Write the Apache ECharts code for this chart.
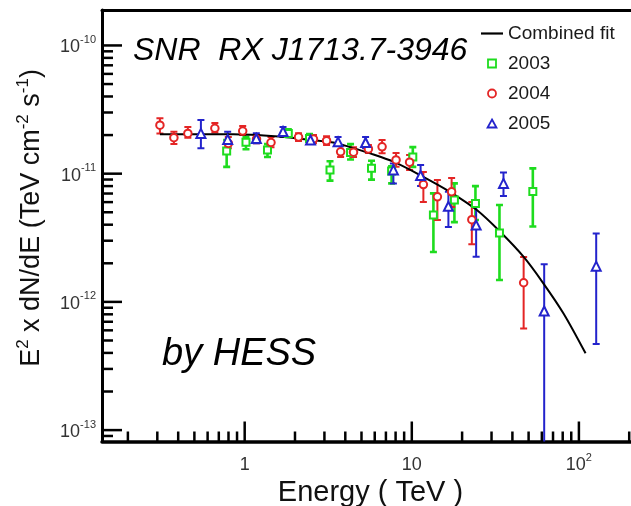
<!DOCTYPE html>
<html>
<head>
<meta charset="utf-8">
<script src="https://cdn.jsdelivr.net/npm/echarts@6/dist/echarts.min.js"></script>
<style>
  html, body { margin: 0; padding: 0; background: #fff; }
  #chart { width: 631px; height: 506px; }
</style>
</head>
<body>
<div id="chart"></div>
<script>
// Energies in TeV, E^2 dN/dE in TeV cm^-2 s^-1, with lower/upper error bounds.
const energy2003 = [0.780, 1.018, 1.369, 1.824, 2.443, 3.24, 4.30, 5.74, 7.57, 10.14, 13.47, 17.99, 24.04, 33.47, 53.0];
const flux2003   = [1.50e-11, 1.76e-11, 1.53e-11, 2.06e-11, 1.88e-11, 1.07e-11, 1.46e-11, 1.10e-11, 1.05e-11, 1.35e-11, 4.75e-12, 6.22e-12, 5.84e-12, 3.44e-12, 7.25e-12];
const low2003    = [1.13e-11, 1.55e-11, 1.35e-11, 1.93e-11, 1.76e-11, 8.83e-12, 1.29e-11, 8.99e-12, 8.40e-12, 1.13e-11, 2.45e-12, 4.19e-12, 4.35e-12, 1.48e-12, 3.87e-12];
const high2003   = [1.83e-11, 1.94e-11, 1.70e-11, 2.22e-11, 2.04e-11, 1.25e-11, 1.70e-11, 1.26e-11, 1.14e-11, 1.61e-11, 7.02e-12, 8.40e-12, 8.00e-12, 5.69e-12, 1.10e-11];

const energy2004 = [0.311, 0.377, 0.457, 0.663, 0.798, 0.973, 1.177, 1.437, 2.10, 2.58, 3.09, 3.75, 4.48, 5.50, 6.64, 8.05, 9.70, 11.73, 14.23, 17.31, 22.87, 46.7];
const flux2004   = [2.39e-11, 1.91e-11, 2.06e-11, 2.26e-11, 1.72e-11, 2.15e-11, 1.86e-11, 1.75e-11, 1.93e-11, 1.86e-11, 1.81e-11, 1.48e-11, 1.47e-11, 1.56e-11, 1.62e-11, 1.28e-11, 1.23e-11, 8.22e-12, 6.60e-12, 7.22e-12, 4.38e-12, 1.41e-12];
const low2004    = [2.06e-11, 1.70e-11, 1.91e-11, 2.09e-11, 1.58e-11, 2.00e-11, 1.73e-11, 1.61e-11, 1.80e-11, 1.73e-11, 1.67e-11, 1.35e-11, 1.35e-11, 1.45e-11, 1.44e-11, 1.13e-11, 1.07e-11, 6.00e-12, 4.35e-12, 5.49e-12, 2.82e-12, 6.19e-13];
const high2004   = [2.70e-11, 2.12e-11, 2.31e-11, 2.48e-11, 1.93e-11, 2.35e-11, 2.00e-11, 1.93e-11, 2.07e-11, 2.00e-11, 1.96e-11, 1.65e-11, 1.61e-11, 1.67e-11, 1.83e-11, 1.45e-11, 1.40e-11, 1.03e-11, 8.91e-12, 9.24e-12, 6.00e-12, 2.24e-12];

const energy2005 = [0.547, 0.791, 1.174, 1.696, 2.477, 3.62, 5.29, 7.76, 11.29, 16.56, 24.27, 35.37, 61.98, 126.9];
const flux2005   = [2.06e-11, 1.85e-11, 1.88e-11, 2.13e-11, 1.83e-11, 1.77e-11, 1.75e-11, 1.07e-11, 9.66e-12, 5.56e-12, 3.97e-12, 8.40e-12, 8.48e-13, 1.90e-12];
const low2005    = [1.58e-11, 1.61e-11, 1.73e-11, 1.93e-11, 1.70e-11, 1.64e-11, 1.58e-11, 8.40e-12, 8.00e-12, 3.83e-12, 2.25e-12, 6.69e-12, 6.0e-14, 4.69e-13];
const high2005   = [2.62e-11, 2.12e-11, 2.07e-11, 2.31e-11, 1.96e-11, 1.93e-11, 1.93e-11, 1.20e-11, 1.17e-11, 7.22e-12, 5.79e-12, 1.02e-11, 1.97e-12, 3.42e-12];

// Combined fit curve
const fitEnergy = [0.311, 0.855, 1.70, 2.14, 3.39, 4.27, 5.63, 7.76, 11.2, 16.9, 24.5, 33.8, 46.6, 61.4, 80.9, 109.6];
const fitFlux   = [2.03e-11, 2.03e-11, 1.94e-11, 1.87e-11, 1.75e-11, 1.61e-11, 1.44e-11, 1.24e-11, 9.75e-12, 7.22e-12, 5.20e-12, 3.52e-12, 2.25e-12, 1.39e-12, 8.12e-13, 3.97e-13];

// Axis ranges and decade ticks
const energyRange = [0.14, 205];
const fluxRange = [8.15e-14, 1.89e-10];
const energyDecades = [0.1, 1, 10, 100];
const fluxDecades = [1e-14, 1e-13, 1e-12, 1e-11, 1e-10];

const FONT = '"Liberation Sans", Arial, Helvetica, sans-serif';
const GREEN = '#1edc1e';
const RED = '#e42525';
const BLUE = '#2323cc';

function decadeTicks(decades, range) {
  const ticks = [];
  decades.forEach(function (d) {
    for (let m = 1; m <= 9; m++) {
      const v = +(d * m).toPrecision(6);
      if (v >= range[0] && v <= range[1]) ticks.push({ value: v, major: m === 1 });
    }
  });
  return ticks;
}
const energyTicks = decadeTicks(energyDecades, energyRange);
const fluxTicks = decadeTicks(fluxDecades, fluxRange);

function powerLabel(v, isX) {
  const lg = Math.log10(v);
  const e = Math.round(lg);
  if (Math.abs(lg - e) > 1e-6) return '';
  if (isX && e === 0) return '{b|1}';
  if (isX && e === 1) return '{b|10}';
  return '{b|10}{s|' + e + '}';
}

const labelRich = {
  b: { fontSize: 18, fontFamily: FONT, color: '#333', lineHeight: 22, verticalAlign: 'bottom' },
  s: { fontSize: 11, fontFamily: FONT, color: '#333', lineHeight: 11, verticalAlign: 'top' }
};

function pairs(xs, ys) { return xs.map(function (x, i) { return [x, ys[i]]; }); }
function bars(xs, lo, hi) { return xs.map(function (x, i) { return [x, lo[i], hi[i]]; }); }

function errorBarRenderer(color, width) {
  return function (params, api) {
    const e = api.value(0);
    const lo = api.coord([e, api.value(1)]);
    const hi = api.coord([e, api.value(2)]);
    const cap = 3.5;
    const style = { stroke: color, lineWidth: width, fill: null };
    return {
      type: 'group',
      children: [
        { type: 'line', shape: { x1: lo[0], y1: lo[1], x2: hi[0], y2: hi[1] }, style: style },
        { type: 'line', shape: { x1: lo[0] - cap, y1: lo[1], x2: lo[0] + cap, y2: lo[1] }, style: style },
        { type: 'line', shape: { x1: hi[0] - cap, y1: hi[1], x2: hi[0] + cap, y2: hi[1] }, style: style }
      ]
    };
  };
}

function errorSeries(name, color, width, xs, lo, hi) {
  return {
    type: 'custom',
    name: name + ' errors',
    clip: true,
    silent: true,
    z: 2,
    data: bars(xs, lo, hi),
    encode: { x: 0, y: [1, 2] },
    renderItem: errorBarRenderer(color, width)
  };
}

function markerSeries(name, color, symbol, size, xs, ys) {
  return {
    type: 'scatter',
    name: name,
    symbol: symbol,
    symbolSize: size,
    z: 4,
    itemStyle: { color: color, borderColor: color, borderWidth: 1.8, opacity: 1 },
    data: pairs(xs, ys)
  };
}

// Inward-pointing decade and sub-decade ticks along the bottom and left axes
const tickSeriesX = {
  type: 'custom',
  silent: true,
  z: 6,
  data: energyTicks.map(function (t) { return [t.value, fluxRange[0], t.major ? 1 : 0]; }),
  encode: { x: 0, y: 1 },
  renderItem: function (params, api) {
    const cs = params.coordSys;
    const p = api.coord([api.value(0), fluxRange[0]]);
    const yb = cs.y + cs.height;
    const len = api.value(2) ? 20 : 10;
    return { type: 'line', shape: { x1: p[0], y1: yb, x2: p[0], y2: yb - len }, style: { stroke: '#000', lineWidth: 2.5 } };
  }
};
const tickSeriesY = {
  type: 'custom',
  silent: true,
  z: 6,
  data: fluxTicks.map(function (t) { return [energyRange[0], t.value, t.major ? 1 : 0]; }),
  encode: { x: 0, y: 1 },
  renderItem: function (params, api) {
    const cs = params.coordSys;
    const p = api.coord([energyRange[0], api.value(1)]);
    const xl = cs.x;
    const len = api.value(2) ? 20 : 11;
    return { type: 'line', shape: { x1: xl, y1: p[1], x2: xl + len, y2: p[1] }, style: { stroke: '#000', lineWidth: 2.5 } };
  }
};

// Legend glyphs: a short bar for the fit, outlined markers for each year
const ICON_LINE = 'path://M0,0H100V10H0Z';
const ICON_SQUARE = 'path://M0,0H10V10H0Z';
const ICON_CIRCLE = 'path://M5,0A5,5 0 1,1 5,10A5,5 0 1,1 5,0Z';
const ICON_TRIANGLE = 'path://M5,0L10,9L0,9Z';

const chart = echarts.init(document.getElementById('chart'), null, { renderer: 'canvas' });

chart.setOption({
  animation: false,
  backgroundColor: '#fff',
  textStyle: { fontFamily: FONT },
  grid: { left: 102, right: 0, top: 10, bottom: 64.5, containLabel: false, outerBoundsMode: 'none' },
  xAxis: [
    {
      type: 'log',
      logBase: 10,
      min: energyRange[0],
      max: energyRange[1],
      axisLine: { show: true, onZero: false, lineStyle: { color: '#000', width: 3.5 } },
      axisTick: { show: false },
      splitLine: { show: false },
      axisLabel: {
        margin: 11,
        showMinLabel: false,
        showMaxLabel: false,
        formatter: function (v) { return powerLabel(v, true); },
        rich: labelRich
      },
      name: 'Energy ( TeV )',
      nameLocation: 'middle',
      nameGap: 37,
      nameMoveOverlap: false,
      nameTextStyle: { fontSize: 29, color: '#111', fontFamily: FONT, padding: [0, 0, 0, 8] }
    },
    {
      type: 'value',
      position: 'top',
      min: 0,
      max: 1,
      axisLine: { show: true, lineStyle: { color: '#000', width: 3 } },
      axisTick: { show: false },
      axisLabel: { show: false },
      splitLine: { show: false }
    }
  ],
  yAxis: {
    type: 'log',
    logBase: 10,
    min: fluxRange[0],
    max: fluxRange[1],
    axisLine: { show: true, onZero: false, lineStyle: { color: '#000', width: 3 } },
    axisTick: { show: false },
    splitLine: { show: false },
    axisLabel: {
      margin: 6,
      showMinLabel: false,
      showMaxLabel: false,
      formatter: function (v) { return powerLabel(v, false); },
      rich: labelRich
    }
  },
  legend: {
    orient: 'vertical',
    left: 476,
    top: 18.5,
    itemWidth: 22,
    itemHeight: 8,
    itemGap: 10,
    symbolKeepAspect: true,
    textStyle: { fontSize: 19, color: '#1a1a1a', fontFamily: FONT, lineHeight: 20 },
    data: [
      { name: 'Combined fit', icon: ICON_LINE, itemStyle: { color: '#000', borderWidth: 0 } },
      { name: '2003', icon: ICON_SQUARE, itemStyle: { color: '#fff', borderColor: GREEN, borderWidth: 1.8 } },
      { name: '2004', icon: ICON_CIRCLE, itemStyle: { color: '#fff', borderColor: RED, borderWidth: 1.8 } },
      { name: '2005', icon: ICON_TRIANGLE, itemStyle: { color: '#fff', borderColor: BLUE, borderWidth: 1.8 } }
    ]
  },
  graphic: [
    {
      type: 'text',
      left: 133,
      top: 35,
      style: { text: 'SNR  RX J1713.7-3946', fontSize: 32, fontStyle: 'italic', fontFamily: FONT, fill: '#000' }
    },
    {
      type: 'text',
      left: 162,
      top: 335,
      style: { text: 'by HESS', fontSize: 38, fontStyle: 'italic', fontFamily: FONT, fill: '#000' }
    },
    {
      type: 'text',
      x: 30,
      y: 218,
      rotation: Math.PI / 2,
      style: {
        text: '{n|E}{s|2}{n| x dN/dE (TeV cm}{s|-2}{n| s}{s|-1}{n|)}',
        align: 'center',
        verticalAlign: 'middle',
        rich: {
          n: { fontSize: 27, fontFamily: FONT, fill: '#111', lineHeight: 30, verticalAlign: 'bottom' },
          s: { fontSize: 17, fontFamily: FONT, fill: '#111', lineHeight: 17, verticalAlign: 'top' }
        }
      }
    }
  ],
  series: [
    {
      type: 'line',
      name: 'Combined fit',
      data: pairs(fitEnergy, fitFlux),
      smooth: 0.3,
      symbol: 'none',
      showSymbol: false,
      z: 3,
      itemStyle: { color: '#000' },
      lineStyle: { color: '#000', width: 2 }
    },
    errorSeries('2003', GREEN, 2.6, energy2003, low2003, high2003),
    errorSeries('2004', RED, 2, energy2004, low2004, high2004),
    errorSeries('2005', BLUE, 2, energy2005, low2005, high2005),
    markerSeries('2003', GREEN, 'emptyRect', 7, energy2003, flux2003),
    markerSeries('2004', RED, 'emptyCircle', 7.5, energy2004, flux2004),
    markerSeries('2005', BLUE, 'emptyTriangle', 9, energy2005, flux2005),
    tickSeriesX,
    tickSeriesY
  ]
});
</script>
</body>
</html>
